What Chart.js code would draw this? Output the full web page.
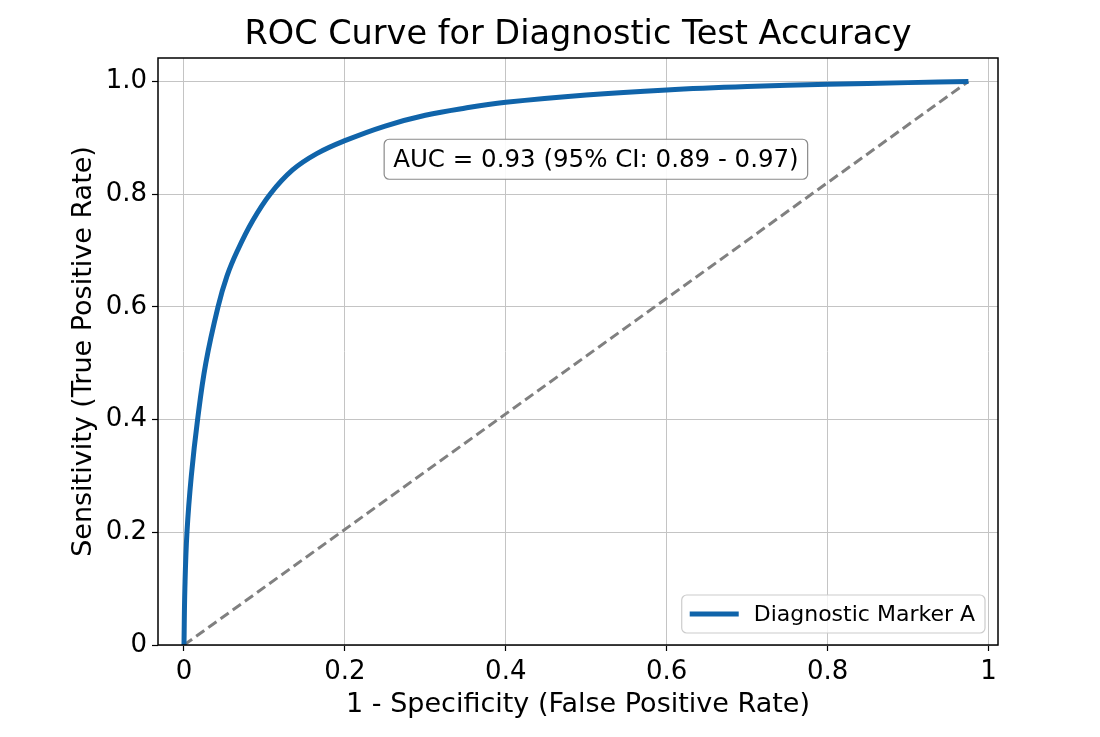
<!DOCTYPE html>
<html>
<head>
<meta charset="utf-8">
<script src="https://cdn.jsdelivr.net/npm/chart.js@4/dist/chart.umd.min.js"></script>
<style>
  html, body { margin: 0; padding: 0; background: #ffffff; }
  #wrap { width: 1100px; height: 737px; }
</style>
</head>
<body>
<div id="wrap"><canvas id="c" width="1100" height="737"></canvas></div>
<script>
// ---- data ----
const chartTitle = 'ROC Curve for Diagnostic Test Accuracy';
const xAxisTitle = '1 - Specificity (False Positive Rate)';
const yAxisTitle = 'Sensitivity (True Positive Rate)';
const seriesLabel = 'Diagnostic Marker A';
const annotationText = 'AUC = 0.93 (95% CI: 0.89 - 0.97)';

const fpr = [0, 0.0011, 0.0037, 0.0091, 0.0169, 0.0271, 0.0423, 0.0535, 0.0665, 0.085, 0.107, 0.135, 0.165, 0.200, 0.250, 0.300, 0.350, 0.400, 0.500, 0.600, 0.700, 0.800, 0.900, 0.975];
const tpr = [0, 0.100, 0.200, 0.300, 0.400, 0.500, 0.600, 0.655, 0.700, 0.752, 0.800, 0.843, 0.872, 0.895, 0.921, 0.940, 0.953, 0.963, 0.976, 0.985, 0.991, 0.995, 0.998, 1.000];

const chanceX = [0, 0.975];
const chanceY = [0, 1.0];

const xTicks = [0, 0.2, 0.4, 0.6, 0.8, 1];
const yTicks = [0, 0.2, 0.4, 0.6, 0.8, 1.0];
const xTickLabels = ['0', '0.2', '0.4', '0.6', '0.8', '1'];
const yTickLabels = ['0', '0.2', '0.4', '0.6', '0.8', '1.0'];

// annotation anchor (data coordinates, centre of box)
const annotX = 0.512;
const annotY = 0.862;

// ---- styles ----
const FONT = 'DejaVu Sans';
const curveColor = '#1064aa';
Chart.defaults.font.family = FONT;
Chart.defaults.color = '#000000';

const roundRect = (ctx, x, y, w, h, r) => {
  ctx.beginPath();
  ctx.moveTo(x + r, y);
  ctx.lineTo(x + w - r, y);
  ctx.arcTo(x + w, y, x + w, y + r, r);
  ctx.lineTo(x + w, y + h - r);
  ctx.arcTo(x + w, y + h, x + w - r, y + h, r);
  ctx.lineTo(x + r, y + h);
  ctx.arcTo(x, y + h, x, y + h - r, r);
  ctx.lineTo(x, y + r);
  ctx.arcTo(x, y, x + r, y, r);
  ctx.closePath();
};

const framePlugin = {
  id: 'frameAndExtras',
  afterDraw(chart) {
    const ctx = chart.ctx;
    const a = chart.chartArea;
    const xs = chart.scales.x, ys = chart.scales.y;
    ctx.save();
    // frame
    ctx.strokeStyle = '#000000';
    ctx.lineWidth = 1.5;
    ctx.strokeRect(a.left, a.top, a.right - a.left, a.bottom - a.top);

    // annotation box
    ctx.font = '24.5px "' + FONT + '"';
    const tw = ctx.measureText(annotationText).width;
    const cx = xs.getPixelForValue(annotX);
    const cy = ys.getPixelForValue(annotY);
    const bw = tw + 18, bh = 40;
    roundRect(ctx, cx - bw / 2, cy - bh / 2, bw, bh, 5);
    ctx.fillStyle = 'rgba(255,255,255,0.9)';
    ctx.fill();
    ctx.strokeStyle = '#8a8a8a';
    ctx.lineWidth = 1.2;
    ctx.stroke();
    ctx.fillStyle = '#000000';
    ctx.textAlign = 'center';
    ctx.textBaseline = 'middle';
    ctx.fillText(annotationText, cx, cy + 1);

    // legend (lower right inside plot)
    const ds = chart.data.datasets[0];
    ctx.font = '22px "' + FONT + '"';
    const lw = ctx.measureText(ds.label).width;
    const boxW = 8 + 49 + 15 + lw + 10;
    const boxH = 38;
    const bx = a.right - 13 - boxW;
    const by = a.bottom - 12 - boxH;
    roundRect(ctx, bx, by, boxW, boxH, 5);
    ctx.fillStyle = 'rgba(255,255,255,0.8)';
    ctx.fill();
    ctx.strokeStyle = '#cccccc';
    ctx.lineWidth = 1.2;
    ctx.stroke();
    ctx.strokeStyle = ds.borderColor;
    ctx.lineWidth = ds.borderWidth;
    ctx.beginPath();
    ctx.moveTo(bx + 8, by + boxH / 2);
    ctx.lineTo(bx + 57, by + boxH / 2);
    ctx.stroke();
    ctx.fillStyle = '#000000';
    ctx.textAlign = 'left';
    ctx.textBaseline = 'middle';
    ctx.fillText(ds.label, bx + 72, by + boxH / 2 + 1);
    ctx.restore();
  }
};

const curvePoints = fpr.map((v, i) => ({ x: v, y: tpr[i] }));
const chancePoints = chanceX.map((v, i) => ({ x: v, y: chanceY[i] }));

new Chart(document.getElementById('c'), {
  type: 'line',
  data: {
    datasets: [
      {
        label: seriesLabel,
        data: curvePoints,
        borderColor: curveColor,
        borderWidth: 5,
        pointRadius: 0,
        fill: false,
        tension: 0.4,
        order: 1
      },
      {
        label: 'Chance',
        data: chancePoints,
        borderColor: '#808080',
        borderWidth: 3,
        borderDash: [10, 5],
        pointRadius: 0,
        fill: false,
        order: 2
      }
    ]
  },
  options: {
    responsive: false,
    animation: false,
    events: [],
    layout: { padding: { top: 0, right: 102, bottom: 0, left: 0 } },
    plugins: {
      legend: { display: false },
      tooltip: { enabled: false },
      title: {
        display: true,
        text: chartTitle,
        fullSize: false,
        color: '#000000',
        font: { size: 33.5, weight: 'normal', family: FONT },
        padding: { top: 15, bottom: 2.8 }
      }
    },
    scales: {
      x: {
        type: 'linear',
        min: -0.0323,
        max: 1.0118,
        afterFit(s) { s.height = 92; },
        afterBuildTicks(s) { s.ticks = xTicks.map(v => ({ value: v })); },
        ticks: {
          color: '#000000',
          font: { size: 26, family: FONT },
          padding: 6,
          maxRotation: 0,
          callback: (v) => { const i = xTicks.indexOf(v); return i >= 0 ? xTickLabels[i] : ''; }
        },
        grid: { color: '#c4c4c4', lineWidth: 1, tickColor: '#000000', tickLength: 6, tickWidth: 1.2 },
        border: { display: false },
        title: {
          display: true,
          text: xAxisTitle,
          color: '#000000',
          font: { size: 27, family: FONT },
          padding: { top: 0, bottom: 16 }
        }
      },
      y: {
        type: 'linear',
        min: 0,
        max: 1.0417,
        afterFit(s) { s.width = 158; },
        afterBuildTicks(s) { s.ticks = yTicks.map(v => ({ value: v })); },
        ticks: {
          color: '#000000',
          font: { size: 26, family: FONT },
          padding: 5,
          callback: (v) => { const i = yTicks.indexOf(v); return i >= 0 ? yTickLabels[i] : ''; }
        },
        grid: { color: '#c4c4c4', lineWidth: 1, tickColor: '#000000', tickLength: 6, tickWidth: 1.2 },
        border: { display: false },
        title: {
          display: true,
          text: yAxisTitle,
          color: '#000000',
          font: { size: 27, family: FONT },
          padding: { top: 68, bottom: 0 }
        }
      }
    }
  },
  plugins: [framePlugin]
});
</script>
</body>
</html>
